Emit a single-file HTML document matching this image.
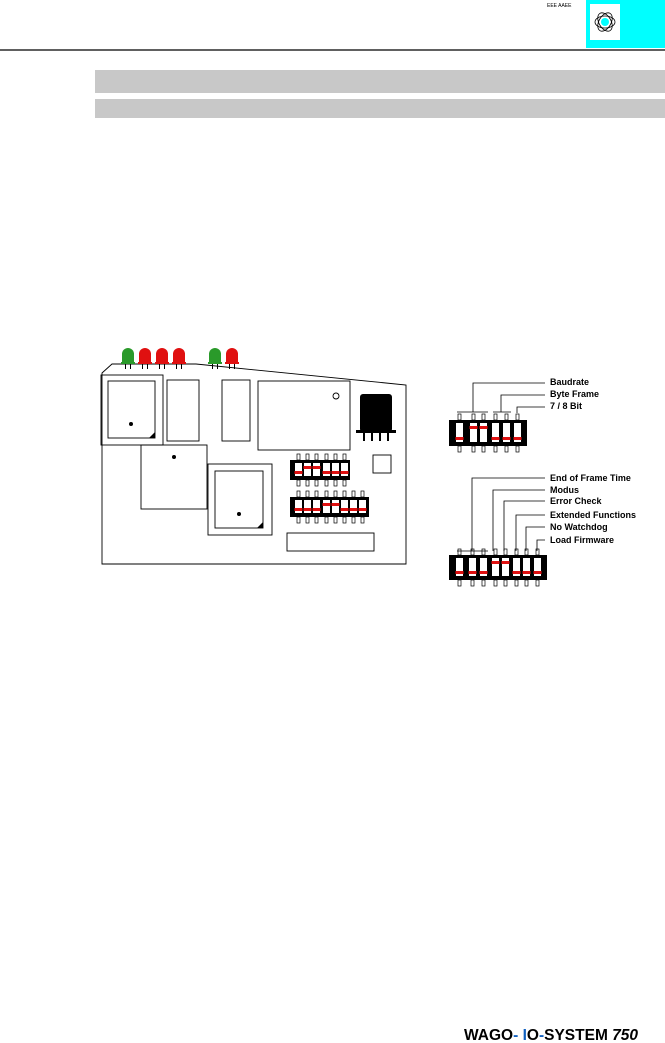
<!DOCTYPE html>
<html><head><meta charset="utf-8"><style>
html,body{margin:0;padding:0;background:#fff;}
svg{display:block;font-family:"Liberation Sans",Arial,sans-serif;}
</style></head><body>
<svg id="s" width="665" height="1043" viewBox="0 0 665 1043" xmlns="http://www.w3.org/2000/svg">
<rect x="586" y="0" width="79" height="48" fill="#00ffff"/>
<rect x="590" y="4" width="30" height="36" fill="#fff"/>
<ellipse cx="605" cy="22" rx="10" ry="6" fill="none" stroke="#000" stroke-width="0.8"/>
<ellipse cx="605" cy="22" rx="10" ry="6" fill="none" stroke="#000" stroke-width="0.8" transform="rotate(60 605 22)"/>
<ellipse cx="605" cy="22" rx="10" ry="6" fill="none" stroke="#000" stroke-width="0.8" transform="rotate(-60 605 22)"/>
<circle cx="605" cy="22" r="4" fill="#00ffff"/>
<text x="547" y="7" font-size="5" fill="#000">EEE AAEE</text>
<line x1="0" y1="50" x2="665" y2="50" stroke="#000" stroke-width="1.2"/>
<rect x="95" y="70" width="570" height="23" fill="#c8c8c8"/>
<rect x="95" y="99" width="570" height="19" fill="#c8c8c8"/>
<g id="board" fill="none" stroke="#000" stroke-width="0.9">
<polygon points="102,373 112,364 196,364 406,385 406,564 102,564" fill="#fff"/>
<rect x="101" y="375" width="62" height="70"/>
<rect x="108" y="381" width="47" height="57"/>
<rect x="167" y="380" width="32" height="61"/>
<rect x="222" y="380" width="28" height="61"/>
<rect x="258" y="381" width="92" height="69"/>
<circle cx="336" cy="396" r="3"/>
<rect x="141" y="445" width="66" height="64"/>
<rect x="208" y="464" width="64" height="71"/>
<rect x="215" y="471" width="48" height="57"/>
<rect x="373" y="455" width="18" height="18"/>
<rect x="287" y="533" width="87" height="18"/>
</g>
<g fill="#000">
<circle cx="131" cy="424" r="2"/><circle cx="174" cy="457" r="2"/><circle cx="239" cy="514" r="2"/>
<polygon points="155,432 155,438 149,438"/><polygon points="263,522 263,528 257,528"/>
<rect x="360" y="394" width="32" height="38" rx="3"/>
<rect x="356" y="430" width="40" height="3"/>
<rect x="363" y="433" width="2" height="8"/><rect x="371" y="433" width="2" height="8"/><rect x="379" y="433" width="2" height="8"/><rect x="387" y="433" width="2" height="8"/>
</g>
<g id="leds"></g>
<g id="dips"></g>
<g stroke="#000" stroke-width="0.8" fill="none">
<path d="M545 383H473V412M457 412H488"/>
<path d="M545 395H501V412M493 412H511"/>
<path d="M545 407H517V413"/>
<path d="M545 478H472V551M457 551H488"/>
<path d="M545 490H493V551"/>
<path d="M545 501H504V551"/>
<path d="M545 515H516V551"/>
<path d="M545 527H526V551"/>
<path d="M545 540H537V551"/>
</g>
<g font-size="9" font-weight="bold" fill="#000">
<text x="550" y="385">Baudrate</text>
<text x="550" y="397">Byte Frame</text>
<text x="550" y="409">7 / 8 Bit</text>
<text x="550" y="481">End of Frame Time</text>
<text x="550" y="493">Modus</text>
<text x="550" y="504">Error Check</text>
<text x="550" y="518">Extended Functions</text>
<text x="550" y="530">No Watchdog</text>
<text x="550" y="543">Load Firmware</text>
</g>
<text x="464" y="1040" font-size="15.5" font-weight="bold" fill="#000">WAGO<tspan fill="#1060c0">-</tspan> <tspan fill="#1060c0">I</tspan>O<tspan fill="#1060c0">-</tspan>SYSTEM <tspan font-style="italic">750</tspan></text>
</svg>
<script>
var NS="http://www.w3.org/2000/svg";
function el(p,t,a){var e=document.createElementNS(NS,t);for(var k in a)e.setAttribute(k,a[k]);p.appendChild(e);return e;}
var L=document.getElementById("leds");
[[128,"#2a9a2a"],[145,"#e01010"],[162,"#e01010"],[179,"#e01010"],[215,"#2a9a2a"],[232,"#e01010"]].forEach(function(l){
 el(L,"path",{d:"M"+(l[0]-6)+" 364V354a6 6 0 0 1 12 0V364Z",fill:l[1]});
 el(L,"rect",{x:l[0]-7,y:362,width:14,height:2,fill:l[1]});
 el(L,"rect",{x:l[0]-3,y:364,width:1,height:5,fill:"#000"});
 el(L,"rect",{x:l[0]+2,y:364,width:1,height:5,fill:"#000"});
});
var D=document.getElementById("dips");
function dip(x,y,w,h,xs,up){
 el(D,"rect",{x:x,y:y,width:w,height:h,fill:"#000"});
 xs.forEach(function(sx,i){
  el(D,"rect",{x:sx-1,y:y-6,width:3,height:6,fill:"none",stroke:"#000","stroke-width":0.7});
  el(D,"rect",{x:sx-1,y:y+h,width:3,height:6,fill:"none",stroke:"#000","stroke-width":0.7});
  el(D,"rect",{x:sx-3,y:y+3,width:7,height:h-7,fill:"#fff"});
  var ry=up[i]?y+6:y+h-9;
  el(D,"rect",{x:sx-3.5,y:ry,width:8,height:3,fill:"#e01010"});
 });
}
dip(449,420,78,26,[459,473,483,495,506,517],[0,1,1,0,0,0]);
dip(449,555,98,25,[459,472,483,495,505,516,526,537],[0,0,0,1,1,0,0,0]);
dip(290,460,60,20,[298,307,316,326,335,344],[0,1,1,0,0,0]);
dip(290,497,79,20,[298,307,316,326,335,344,353,362],[0,0,0,1,1,0,0,0]);
</script>
</body></html>
